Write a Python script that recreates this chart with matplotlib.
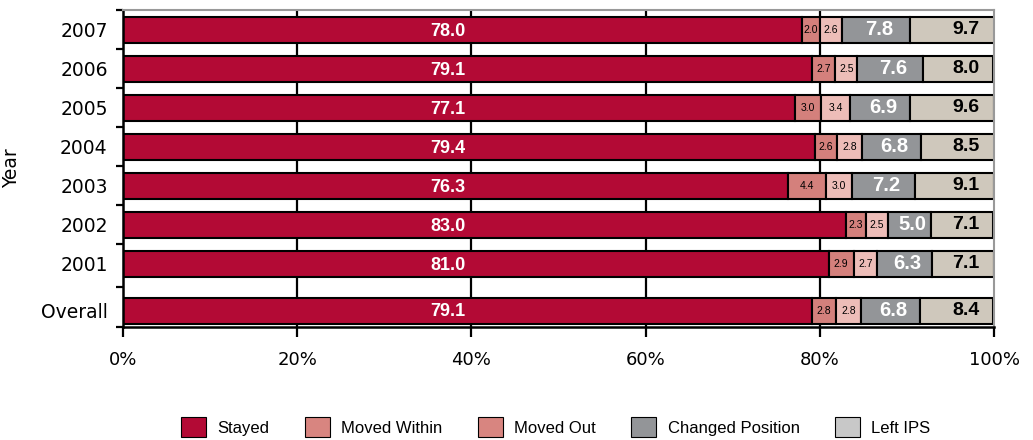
import matplotlib.pyplot as plt
import numpy as np
from matplotlib.patches import Patch

plt.rcParams['font.family'] = ['Liberation Sans', 'DejaVu Sans']

years = ['2007', '2006', '2005', '2004', '2003', '2002', '2001', 'Overall']
stayed = [78.0, 79.1, 77.1, 79.4, 76.3, 83.0, 81.0, 79.1]
moved_within = [2.0, 2.7, 3.0, 2.6, 4.4, 2.3, 2.9, 2.8]
moved_out = [2.6, 2.5, 3.4, 2.8, 3.0, 2.5, 2.7, 2.8]
changed_pos = [7.8, 7.6, 6.9, 6.8, 7.2, 5.0, 6.3, 6.8]
left_ips = [9.7, 8.0, 9.6, 8.5, 9.1, 7.1, 7.1, 8.4]
series_names = ['Stayed', 'Moved Within', 'Moved Out', 'Changed Position', 'Left IPS']

bar_colors = ['#B30A35', '#D4807C', '#EDBDB8', '#939598', '#CFC8BC']
legend_colors = ['#B30A35', '#D88580', '#D88580', '#939598', '#C8C8C8']

fig = plt.figure(figsize=(10.33, 4.4), dpi=100)
ax = fig.add_axes([123/1033, 1-327/440, (994-123)/1033, (327-10)/440])

# rows from top; the overall row sits a bit lower
ypos = np.array([0, 1, 2, 3, 4, 5, 6, 7.2])
h = 0.67

for g in [20, 40, 60, 80]:
    ax.axvline(g, color='black', lw=1.6, zorder=0)

series = [stayed, moved_within, moved_out, changed_pos, left_ips]
left = np.zeros(len(years))
for k, vals in enumerate(series):
    vals = np.array(vals)
    ax.barh(ypos, vals, left=left, height=h, color=bar_colors[k],
            edgecolor='black', linewidth=1.5, zorder=2)
    for y, l, v in zip(ypos, left, vals):
        cx = l + v / 2
        s = f'{v:.1f}'
        if k == 0:
            ax.text(37.3, y + 0.03, s, color='white', fontsize=13, fontweight='bold',
                    ha='center', va='center', zorder=3)
        elif k == 3:
            ax.text(cx + 0.3, y, s, color='white', fontsize=14.5, fontweight='bold',
                    ha='center', va='center', zorder=3)
        elif k == 4:
            ax.text(98.3, y, s, color='black', fontsize=14,
                    fontweight='bold', ha='right', va='center', zorder=3)
        else:
            ax.text(cx, y, s, color='black', fontsize=7.5,
                    ha='center', va='center', zorder=3)
    left = left + vals

ax.set_xlim(0, 100)
ax.set_ylim(7.62, -0.51)
ax.set_xticks([0, 20, 40, 60, 80, 100])
ax.set_xticklabels(['0%', '20%', '40%', '60%', '80%', '100%'], fontsize=13,
                   family='DejaVu Sans')
ax.tick_params(axis='x', direction='out', length=7, width=1.6, pad=10)

ax.set_yticks(ypos)
ax.set_yticklabels(years, fontsize=13.5, family='DejaVu Sans')
ax.tick_params(axis='y', which='major', length=0, pad=11)
bounds = [-0.51, 0.5, 1.5, 2.5, 3.5, 4.5, 5.5, 6.6, 7.62]
ax.set_yticks(bounds, minor=True)
ax.tick_params(axis='y', which='minor', direction='out', length=5, width=1.6)
ax.set_ylabel('Year', fontsize=13.5, family='DejaVu Sans', labelpad=14)

ax.spines['left'].set_linewidth(1.8)
ax.spines['bottom'].set_linewidth(1.8)
ax.spines['top'].set_color('#999999')
ax.spines['right'].set_color('#999999')
ax.spines['top'].set_linewidth(1.5)
ax.spines['right'].set_linewidth(1.5)

handles = [Patch(facecolor=c, edgecolor='black', linewidth=0.8) for c in legend_colors]
fig.legend(handles, series_names, loc='lower center', bbox_to_anchor=(0.538, -0.028),
           ncol=5, frameon=False, fontsize=12, handlelength=1.5, handleheight=1.5,
           columnspacing=2.1, handletextpad=0.7)

fig.savefig('out.png', dpi=100)
